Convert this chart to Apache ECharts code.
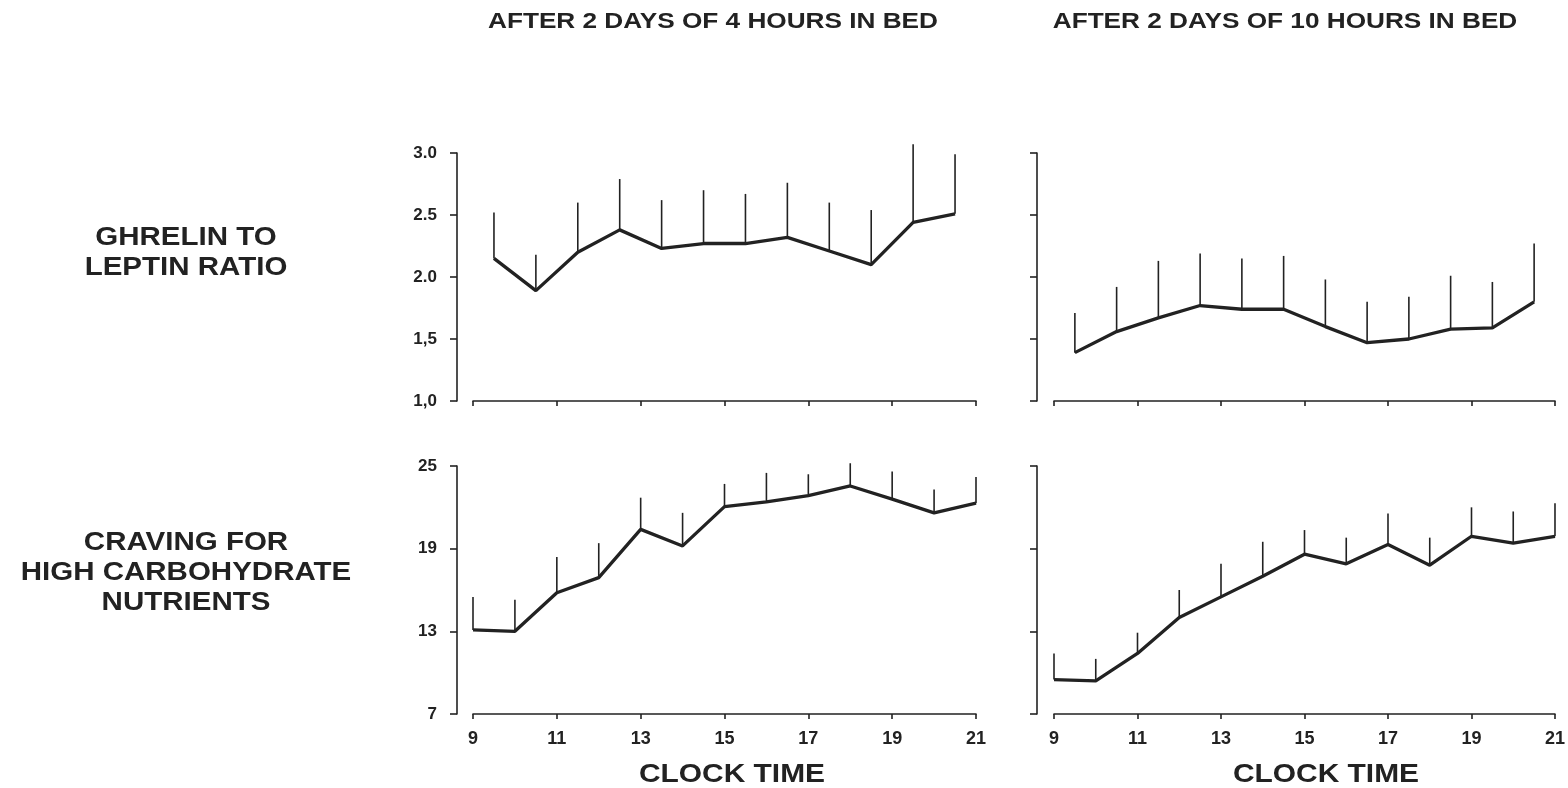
<!DOCTYPE html>
<html>
<head>
<meta charset="utf-8">
<script src="https://cdn.jsdelivr.net/npm/echarts@6/dist/echarts.min.js"></script>
<style>
  html, body { margin: 0; padding: 0; background: #ffffff; }
  #chart { width: 1568px; height: 788px; }
</style>
</head>
<body>
<div id="chart"></div>
<script>
// ---- Data ----
const panelTitles = ['AFTER 2 DAYS OF 4 HOURS IN BED', 'AFTER 2 DAYS OF 10 HOURS IN BED'];
const rowLabels = ['GHRELIN TO\nLEPTIN RATIO', 'CRAVING FOR\nHIGH CARBOHYDRATE\nNUTRIENTS'];
const xAxisName = 'CLOCK TIME';
const ratioTickLabels = {1: '1,0', 1.5: '1,5', 2: '2.0', 2.5: '2.5', 3: '3.0'};

const hoursHalf = [9.5, 10.5, 11.5, 12.5, 13.5, 14.5, 15.5, 16.5, 17.5, 18.5, 19.5, 20.5];
const ratio4h      = [2.15, 1.89, 2.20, 2.38, 2.23, 2.27, 2.27, 2.32, 2.21, 2.10, 2.44, 2.51];
const ratio4hUpper = [2.52, 2.18, 2.60, 2.79, 2.62, 2.70, 2.67, 2.76, 2.60, 2.54, 3.07, 2.99];
const ratio10h      = [1.39, 1.56, 1.67, 1.77, 1.74, 1.74, 1.60, 1.47, 1.50, 1.58, 1.59, 1.80];
const ratio10hUpper = [1.71, 1.92, 2.13, 2.19, 2.15, 2.17, 1.98, 1.80, 1.84, 2.01, 1.96, 2.27];

const hoursWhole = [9, 10, 11, 12, 13, 14, 15, 16, 17, 18, 19, 20, 21];
const craving4h      = [13.1, 13.0, 15.8, 16.9, 20.4, 19.2, 22.05, 22.4, 22.85, 23.55, 22.6, 21.6, 22.3];
const craving4hUpper = [15.5, 15.3, 18.4, 19.4, 22.7, 21.6, 23.7, 24.5, 24.4, 25.2, 24.6, 23.3, 24.2];
const craving10h      = [9.5, 9.4, 11.4, 14.0, 15.5, 17.0, 18.6, 17.9, 19.3, 17.8, 19.9, 19.4, 19.9];
const craving10hUpper = [11.4, 11.0, 12.9, 16.0, 17.9, 19.5, 20.35, 19.8, 21.55, 19.8, 22.0, 21.7, 22.3];

// ---- Styling ----
const INK = '#222222';
const FONT = '"Liberation Sans", Arial, Helvetica, sans-serif';

const grids = [
  {left: 473, top: 153, width: 503, height: 248},
  {left: 1054, top: 153, width: 501, height: 248},
  {left: 473, top: 466, width: 503, height: 248},
  {left: 1054, top: 466, width: 501, height: 248}
];

function makeX(gridIndex, showLabels) {
  return {
    type: 'value', gridIndex, min: 9, max: 21, interval: 2,
    axisLine: {show: true, lineStyle: {color: INK, width: 1.6}},
    axisTick: {show: true, length: 5, lineStyle: {color: INK, width: 1.6}},
    axisLabel: {show: showLabels, color: INK, fontFamily: FONT, fontWeight: 'bold', fontSize: 18, margin: 16},
    splitLine: {show: false}
  };
}
function makeY(gridIndex, min, max, interval, showLabels, offset, formatter) {
  return {
    type: 'value', gridIndex, min, max, interval, offset,
    axisLine: {show: true, lineStyle: {color: INK, width: 1.6}},
    axisTick: {show: true, length: 7, lineStyle: {color: INK, width: 1.6}},
    axisLabel: {show: showLabels, color: INK, fontFamily: FONT, fontWeight: 'bold', fontSize: 17, margin: 20, formatter},
    splitLine: {show: false}
  };
}

function pairs(xs, ys) { return xs.map((x, i) => [x, ys[i]]); }

function lineSeries(idx, xs, ys) {
  return {
    type: 'line', xAxisIndex: idx, yAxisIndex: idx,
    data: pairs(xs, ys), showSymbol: false, symbol: 'none',
    lineStyle: {color: INK, width: 3.3}, silent: true, z: 3
  };
}
function errSeries(idx, xs, ys, ups) {
  return {
    type: 'custom', xAxisIndex: idx, yAxisIndex: idx, clip: false, silent: true, z: 2,
    data: xs.map((x, i) => [x, ys[i], ups[i]]),
    renderItem: function (params, api) {
      const p0 = api.coord([api.value(0), api.value(1)]);
      const p1 = api.coord([api.value(0), api.value(2)]);
      return {
        type: 'line',
        shape: {x1: p0[0], y1: p0[1], x2: p1[0], y2: p1[1]},
        style: {stroke: INK, lineWidth: 1.6}
      };
    }
  };
}

function label(text, x, y, size, scaleX, lineHeight) {
  return {
    type: 'text', x, y, scaleX: scaleX, scaleY: 1,
    style: {
      text, fill: INK, font: 'bold ' + size + 'px ' + FONT,
      textAlign: 'center', textVerticalAlign: 'middle', lineHeight: lineHeight || size
    }
  };
}

const ratioFmt = v => ratioTickLabels[v] !== undefined ? ratioTickLabels[v] : String(v);

const option = {
  backgroundColor: '#ffffff',
  animation: false,
  grid: grids,
  xAxis: [makeX(0, false), makeX(1, false), makeX(2, true), makeX(3, true)],
  yAxis: [
    makeY(0, 1, 3, 0.5, true, 16, ratioFmt),
    makeY(1, 1, 3, 0.5, false, 17),
    makeY(2, 7, 25, 6, true, 16),
    makeY(3, 7, 25, 6, false, 17)
  ],
  series: [
    errSeries(0, hoursHalf, ratio4h, ratio4hUpper),
    lineSeries(0, hoursHalf, ratio4h),
    errSeries(1, hoursHalf, ratio10h, ratio10hUpper),
    lineSeries(1, hoursHalf, ratio10h),
    errSeries(2, hoursWhole, craving4h, craving4hUpper),
    lineSeries(2, hoursWhole, craving4h),
    errSeries(3, hoursWhole, craving10h, craving10hUpper),
    lineSeries(3, hoursWhole, craving10h)
  ],
  graphic: [
    label(panelTitles[0], 713, 22, 22, 1.19),
    label(panelTitles[1], 1285, 22, 22, 1.19),
    label(rowLabels[0], 186, 253, 25, 1.18, 30),
    label(rowLabels[1], 186, 573, 25, 1.18, 30),
    label(xAxisName, 732, 775, 26, 1.15),
    label(xAxisName, 1326, 775, 26, 1.15)
  ]
};

const chart = echarts.init(document.getElementById('chart'), null, {renderer: 'canvas'});
chart.setOption(option);
</script>
</body>
</html>
